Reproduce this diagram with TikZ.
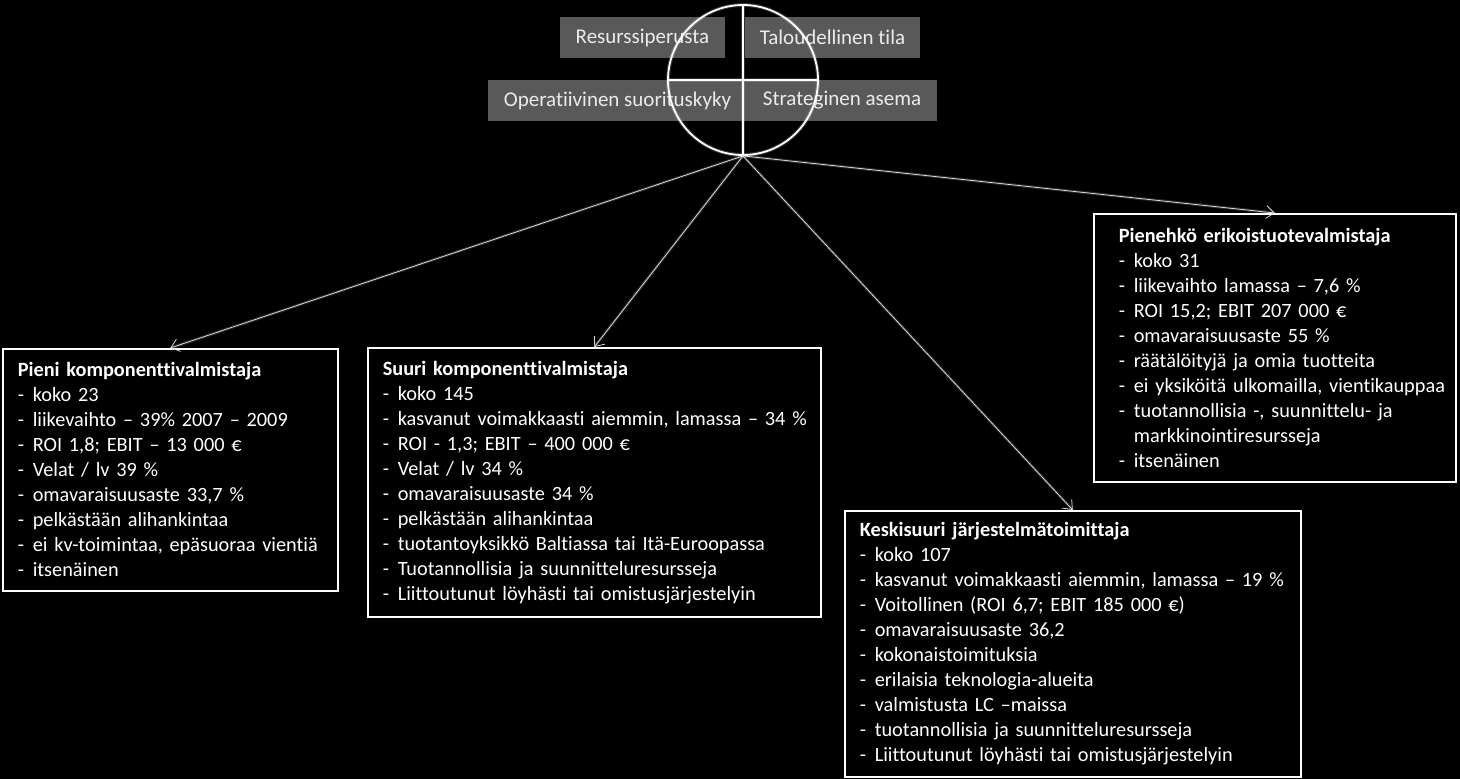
\documentclass[tikz,border=0pt]{standalone}
\usepackage{fontspec}
\setmainfont{Carlito}[Ligatures=NoCommon]
\usetikzlibrary{arrows.meta,positioning}

\newcommand{\itm}[1]{\\\makebox[15pt][l]{-}\mbox{#1}}

\begin{document}
\begin{tikzpicture}[
    x=1pt, y=-1pt,
    font=\fontsize{20.3}{25}\selectfont,
    tag/.style={fill=black!65, text=white!92!black, minimum height=41pt, inner sep=0pt, font=\fontsize{21}{24}\selectfont},
    glow/.style={preaction={draw=white, draw opacity=0.18, line width=4pt, -}},
    ring/.style={circle, draw=white, line width=1.8pt, inner sep=0pt, minimum size=150pt, glow},
    spoke/.style={draw=white, line width=1.8pt, glow},
    card/.style={draw=white, line width=1.6pt, text=white, align=left, inner xsep=15pt, inner ysep=0pt, anchor=north west},
    link/.style={-{Straight Barb[length=8pt, width=13pt]}, draw=white!85!black, line width=0.8pt,
        preaction={draw=white, draw opacity=0.15, line width=3pt, -}}
]
\fill[black] (0,0) rectangle (1460,779);
\useasboundingbox (0,0) rectangle (1460,779);

% quadrant labels
\node[tag, minimum width=165pt] (res) at (642.5,37.5) {Resurssiperusta};
\node[tag, minimum width=175pt] (tal) at (832.5,37.5) {Taloudellinen tila};
\node[tag, minimum width=259pt] (ope) at (617.5,100.5) {Operatiivinen suorituskyky};
\node[tag, minimum width=190pt] (str) at (842,100.5) {Strateginen asema};

% the wheel
\node[ring] (wheel) at (743,80) {};
\draw[spoke] (wheel.north) -- (wheel.south);
\draw[spoke] (wheel.west) -- (wheel.east);

% company types
\node[card, text width=305pt, minimum height=242pt] (pieni) at (2,348) {\textbf{Pieni komponenttivalmistaja}
  \itm{koko 23}
  \itm{liikevaihto – 39\% 2007 – 2009}
  \itm{ROI 1,8; EBIT – 13 000 €}
  \itm{Velat / lv 39 \%}
  \itm{omavaraisuusaste 33,7 \%}
  \itm{pelkästään alihankintaa}
  \itm{ei kv-toimintaa, epäsuoraa vientiä}
  \itm{itsenäinen}};
\node[card, text width=423pt, minimum height=269pt] (suuri) at (367,347) {\textbf{Suuri komponenttivalmistaja}
  \itm{koko 145}
  \itm{kasvanut voimakkaasti aiemmin, lamassa – 34 \%}
  \itm{ROI - 1,3; EBIT – 400 000 €}
  \itm{Velat / lv 34 \%}
  \itm{omavaraisuusaste 34 \%}
  \itm{pelkästään alihankintaa}
  \itm{tuotantoyksikkö Baltiassa tai Itä-Euroopassa}
  \itm{Tuotannollisia ja suunnitteluresursseja}
  \itm{Liittoutunut löyhästi tai omistusjärjestelyin}};
\node[card, inner xsep=25pt, text width=312pt, minimum height=268pt] (erik) at (1093,213) {\textbf{Pienehkö erikoistuotevalmistaja}
  \itm{koko 31}
  \itm{liikevaihto lamassa – 7,6 \%}
  \itm{ROI 15,2; EBIT  207 000 €}
  \itm{omavaraisuusaste 55 \%}
  \itm{räätälöityjä ja omia tuotteita}
  \itm{ei yksiköitä ulkomailla, vientikauppaa}
  \itm{tuotannollisia -, suunnittelu- ja}
  \\\hspace*{15pt}markkinointiresursseja
  \itm{itsenäinen}};
\node[card, text width=426pt, minimum height=266pt] (keski) at (844,510) {\textbf{Keskisuuri järjestelmätoimittaja}
  \itm{koko 107}
  \itm{kasvanut voimakkaasti aiemmin, lamassa – 19 \%}
  \itm{Voitollinen (ROI 6,7; EBIT  185 000 €)}
  \itm{omavaraisuusaste 36,2}
  \itm{kokonaistoimituksia}
  \itm{erilaisia teknologia-alueita}
  \itm{valmistusta LC –maissa}
  \itm{tuotannollisia ja suunnitteluresursseja}
  \itm{Liittoutunut löyhästi tai omistusjärjestelyin}};

\draw[link] (wheel.south) -- (pieni.north);
\draw[link] (wheel.south) -- (suuri.north);
\draw[link] (wheel.south) -- (keski.north);
\draw[link] (wheel.south) -- (erik.north);
\end{tikzpicture}
\end{document}
